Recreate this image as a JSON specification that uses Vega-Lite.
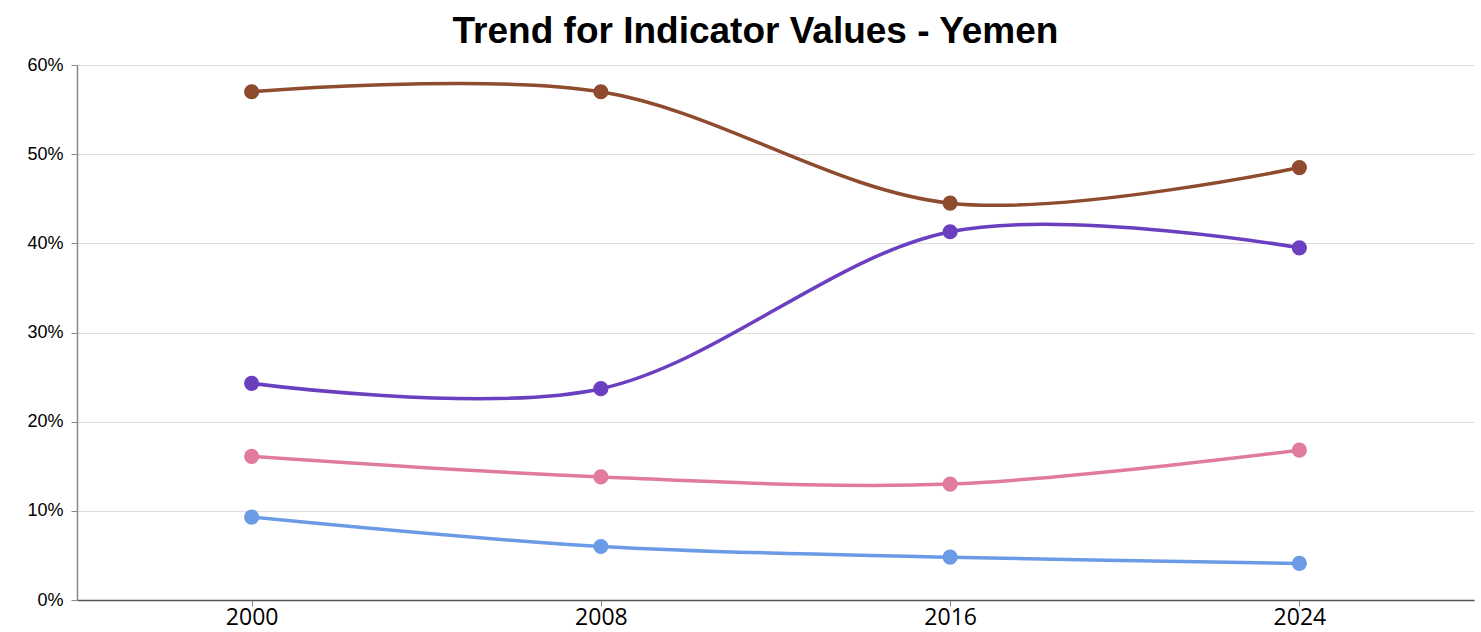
{
  "$schema": "https://vega.github.io/schema/vega-lite/v6.json",
  "width": 1397,
  "height": 535,
  "autosize": {"type": "none"},
  "padding": {"left": 77, "top": 65, "right": 7, "bottom": 32},
  "background": "white",
  "title": {
    "text": "Trend for Indicator Values - Yemen",
    "font": "Liberation Sans",
    "fontSize": 37,
    "fontWeight": "bold",
    "color": "#000000",
    "anchor": "middle",
    "dx": -20,
    "offset": 5
  },
  "data": {
    "values": [
      {"year": "2000", "series": "A", "value": 0.570},
      {"year": "2008", "series": "A", "value": 0.570},
      {"year": "2016", "series": "A", "value": 0.445},
      {"year": "2024", "series": "A", "value": 0.485},
      {"year": "2000", "series": "B", "value": 0.243},
      {"year": "2008", "series": "B", "value": 0.237},
      {"year": "2016", "series": "B", "value": 0.413},
      {"year": "2024", "series": "B", "value": 0.395},
      {"year": "2000", "series": "C", "value": 0.161},
      {"year": "2008", "series": "C", "value": 0.138},
      {"year": "2016", "series": "C", "value": 0.130},
      {"year": "2024", "series": "C", "value": 0.168},
      {"year": "2000", "series": "D", "value": 0.093},
      {"year": "2008", "series": "D", "value": 0.060},
      {"year": "2016", "series": "D", "value": 0.048},
      {"year": "2024", "series": "D", "value": 0.041}
    ]
  },
  "encoding": {
    "x": {
      "field": "year",
      "type": "ordinal",
      "scale": {"type": "point", "padding": 0.5},
      "axis": {
        "title": null,
        "labelAngle": 0,
        "labelFont": "Open Sans",
        "labelFontSize": 23,
        "labelColor": "#000000",
        "domainColor": "#555555",
        "domainWidth": 1.5,
        "tickColor": "#888888",
        "tickSize": 6,
        "labelPadding": 0,
        "grid": false
      }
    },
    "y": {
      "field": "value",
      "type": "quantitative",
      "scale": {"domain": [0, 0.6], "nice": false},
      "axis": {
        "title": null,
        "format": ".0%",
        "values": [0, 0.1, 0.2, 0.3, 0.4, 0.5, 0.6],
        "labelFont": "Liberation Sans",
        "labelFontSize": 18,
        "labelColor": "#000000",
        "domainColor": "#888888",
        "domainWidth": 1.5,
        "tickColor": "#888888",
        "tickSize": 6,
        "labelPadding": 8,
        "grid": true,
        "gridColor": "#dddddd",
        "gridWidth": 1
      }
    },
    "color": {
      "field": "series",
      "type": "nominal",
      "legend": null,
      "scale": {
        "domain": ["A", "B", "C", "D"],
        "range": ["#8e4b2e", "#6a3fc0", "#e07b9e", "#6b9be6"]
      }
    }
  },
  "layer": [
    {"mark": {"type": "line", "interpolate": "cardinal", "strokeWidth": 3.5}},
    {"mark": {"type": "circle", "size": 230, "opacity": 1}}
  ],
  "config": {"view": {"stroke": null}}
}
